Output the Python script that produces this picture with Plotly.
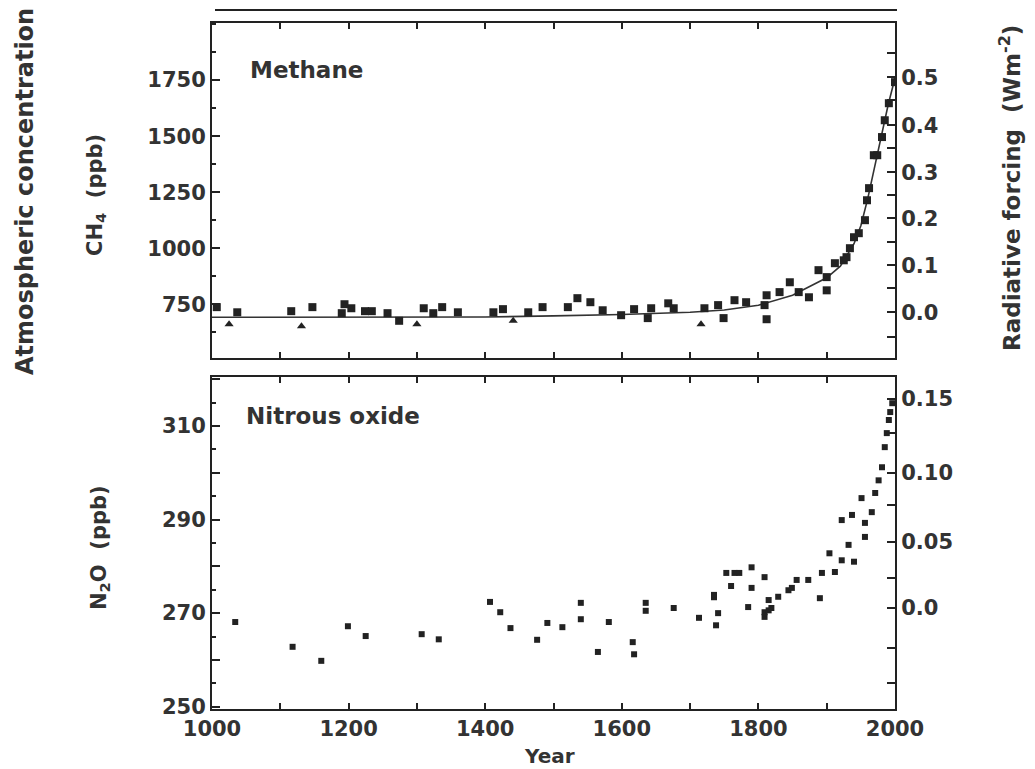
import plotly.graph_objects as go

# ---------------- data ----------------
ch4_years = [1007, 1037, 1116, 1147, 1190, 1194, 1204, 1224, 1234, 1257, 1274, 1310,
             1324, 1337, 1360, 1412, 1426, 1463, 1484, 1521, 1535, 1554, 1572, 1599,
             1618, 1638, 1643, 1668, 1676, 1721, 1741, 1749, 1765, 1782, 1809, 1812,
             1812, 1831, 1846, 1859, 1874, 1888, 1900, 1900, 1912, 1925, 1929, 1934,
             1940, 1947, 1956, 1959, 1962, 1969, 1974, 1981, 1985, 1991, 2000]
ch4_ppb = [737, 714, 719, 737, 710, 750, 732, 719, 719, 710, 676, 732,
           710, 737, 714, 714, 728, 714, 737, 737, 777, 759, 723, 701,
           728, 688, 732, 754, 732, 732, 746, 688, 768, 759, 746, 790,
           683, 804, 848, 804, 781, 902, 871, 812, 933, 946, 960, 1000,
           1049, 1067, 1125, 1214, 1268, 1415, 1415, 1496, 1571, 1647, 1741]
ch4_tri_years = [1025, 1131, 1300, 1441, 1716]
ch4_tri_ppb = [661, 652, 661, 676, 661]

ch4_fit_years = [1000, 1400, 1500, 1600, 1700, 1750, 1800, 1850, 1900, 1920, 1940,
                 1950, 1960, 1970, 1980, 1990, 2000]
ch4_fit_ppb = [692, 693, 698, 704, 714, 724, 745, 790, 868, 920, 1020,
               1100, 1220, 1360, 1490, 1640, 1760]

n2o_years = [1034, 1118, 1160, 1199, 1225, 1307, 1332, 1407, 1422, 1437, 1476, 1491,
             1513, 1540, 1540, 1565, 1581, 1616, 1618, 1635, 1635, 1676, 1713, 1735,
             1741, 1738, 1735, 1753, 1772, 1760, 1790, 1809, 1785, 1790, 1809, 1809,
             1819, 1829, 1844, 1856, 1765, 1815, 1815, 1849, 1873, 1893, 1890, 1904,
             1912, 1922, 1932, 1940, 1922, 1937, 1951, 1956, 1956, 1966, 1971, 1976,
             1981, 1985, 1988, 1991, 1993, 1996]
n2o_ppb = [268.1, 262.8, 259.8, 267.2, 265.1, 265.5, 264.4, 272.4, 270.2, 266.8, 264.3, 267.9,
           267.0, 272.2, 268.7, 261.7, 268.1, 263.8, 261.2, 272.2, 270.5, 271.1, 269.0, 273.4,
           270.0, 267.4, 273.9, 278.6, 278.6, 275.8, 279.8, 277.7, 271.3, 275.4, 270.2, 269.2,
           271.1, 273.5, 274.9, 277.1, 278.6, 272.8, 270.6, 275.4, 277.1, 278.6, 273.2, 282.8,
           278.8, 281.3, 284.6, 281.0, 289.9, 291.0, 294.6, 289.3, 286.3, 291.6, 295.7, 298.4,
           301.2, 305.5, 308.5, 311.3, 313.0, 314.9]

# radiative forcing tick labels and their concentration-equivalent positions
ch4_rf_pos = [603, 714, 821, 924, 1027, 1134, 1237, 1339, 1446, 1549, 1661, 1763, 1870]
ch4_rf_text = [" ", "0.0", " ", "0.1", " ", "0.2", " ", "0.3", " ", "0.4", " ", "0.5", " "]
n2o_rf_pos = [255.0, 262.5, 271.1, 277.5, 285.2, 293.1, 300.0, 308.5, 315.8]
n2o_rf_text = [" ", " ", "0.0", " ", "0.05", " ", "0.10", " ", "0.15"]

ch4_left_pos = [750, 1000, 1250, 1500, 1750]
n2o_left_pos = [250, 260, 270, 280, 290, 300, 310, 320]
n2o_left_text = ["250", " ", "270", " ", "290", " ", "310", " "]

year_ticks = list(range(1000, 2001, 100))
year_text = ["1000", " ", "1200", " ", "1400", " ", "1600", " ", "1800", " ", "2000"]

# ---------------- figure ----------------
W, H = 1035, 769
def px(x):
    return x / W
def py(y):
    return 1 - y / H

INK = "#222222"
TXT = "#333333"
FONT = "DejaVu Sans"

fig = go.Figure()

fig.add_trace(go.Scatter(x=ch4_fit_years, y=ch4_fit_ppb, mode="lines",
                         line=dict(color="#333333", width=1.6), xaxis="x", yaxis="y",
                         showlegend=False, hoverinfo="skip"))
fig.add_trace(go.Scatter(x=ch4_years, y=ch4_ppb, mode="markers",
                         marker=dict(symbol="square", size=8, color=INK),
                         xaxis="x", yaxis="y", showlegend=False))
fig.add_trace(go.Scatter(x=ch4_tri_years, y=ch4_tri_ppb, mode="markers",
                         marker=dict(symbol="triangle-up", size=8, color=INK),
                         xaxis="x", yaxis="y", showlegend=False))
fig.add_trace(go.Scatter(x=[1000], y=[700], mode="markers", marker=dict(opacity=0),
                         xaxis="x", yaxis="y2", showlegend=False, hoverinfo="skip"))

fig.add_trace(go.Scatter(x=n2o_years, y=n2o_ppb, mode="markers",
                         marker=dict(symbol="square", size=6, color=INK),
                         xaxis="x2", yaxis="y3", showlegend=False))
fig.add_trace(go.Scatter(x=[1000], y=[270], mode="markers", marker=dict(opacity=0),
                         xaxis="x2", yaxis="y4", showlegend=False, hoverinfo="skip"))

xdom = [px(212), px(895)]
top_dom = [py(358), py(23)]
bot_dom = [py(709), py(377)]
ch4_range = [510, 2005]
n2o_range = [249.5, 320.5]

axis_common = dict(showline=True, linecolor=INK, linewidth=2, ticks="inside",
                   tickcolor=INK, tickwidth=1.5, showgrid=False, zeroline=False,
                   automargin=False,
                   tickfont=dict(family=FONT, size=21, color=TXT, weight="bold"))

fig.update_layout(
    template="none",
    width=W, height=H, margin=dict(l=0, r=0, t=0, b=0, pad=0, autoexpand=False),
    paper_bgcolor="white", plot_bgcolor="white", showlegend=False,
    xaxis=dict(axis_common, domain=xdom, range=[1000, 2000], anchor="y",
               mirror="ticks", showticklabels=False, tickvals=year_ticks, ticklen=6),
    yaxis=dict(axis_common, domain=top_dom, range=ch4_range, anchor="x",
               mirror=True, tickvals=ch4_left_pos, ticklen=8,
               minor=dict(ticks="inside", dtick=125, tick0=625, ticklen=4,
                          tickcolor=INK, showgrid=False)),
    yaxis2=dict(axis_common, overlaying="y", side="right", anchor="x", range=ch4_range,
                tickvals=ch4_rf_pos, ticktext=ch4_rf_text, ticklen=8),
    xaxis2=dict(axis_common, domain=xdom, range=[1000, 2000], anchor="y3",
                mirror="ticks", tickvals=year_ticks, ticktext=year_text, ticklen=6),
    yaxis3=dict(axis_common, domain=bot_dom, range=n2o_range, anchor="x2",
                mirror=True, tickvals=n2o_left_pos, ticktext=n2o_left_text, ticklen=8,
                minor=dict(ticks="inside", dtick=5, tick0=250, ticklen=4,
                           tickcolor=INK, showgrid=False)),
    yaxis4=dict(axis_common, overlaying="y3", side="right", anchor="x2", range=n2o_range,
                tickvals=n2o_rf_pos, ticktext=n2o_rf_text, ticklen=8),
)

# cut-off bottom edge of the panel above
fig.add_shape(type="line", xref="paper", yref="paper", x0=px(215), x1=px(897),
              y0=py(10), y1=py(10), line=dict(color=INK, width=2))

ann_font = dict(family=FONT, color=TXT, weight="bold")
annots = [
    dict(text="Methane", x=px(248), y=py(70), xanchor="left", yanchor="middle",
         font=dict(ann_font, size=23)),
    dict(text="Nitrous oxide", x=px(244), y=py(416), xanchor="left", yanchor="middle",
         font=dict(ann_font, size=23)),
    dict(text="Year", x=px(549), y=py(756), xanchor="center", yanchor="middle",
         font=dict(ann_font, size=20)),
    dict(text="Atmospheric concentration", x=px(25), y=py(192), textangle=-90,
         xanchor="center", yanchor="middle", font=dict(ann_font, size=24)),
    dict(text="CH<sub>4</sub>  (ppb)", x=px(96), y=py(195), textangle=-90,
         xanchor="center", yanchor="middle", font=dict(ann_font, size=21)),
    dict(text="N<sub>2</sub>O  (ppb)", x=px(100), y=py(548), textangle=-90,
         xanchor="center", yanchor="middle", font=dict(ann_font, size=21)),
    dict(text="Radiative forcing  (Wm<sup>-2</sup>)", x=px(1010), y=py(188), textangle=-90,
         xanchor="center", yanchor="middle", font=dict(ann_font, size=23)),
]
for a in annots:
    fig.add_annotation(xref="paper", yref="paper", showarrow=False, **a)

fig.write_html("out.html",
               config={"displayModeBar": False},
               post_script="document.body.style.margin='0';"
                           "document.body.style.overflow='hidden';")
